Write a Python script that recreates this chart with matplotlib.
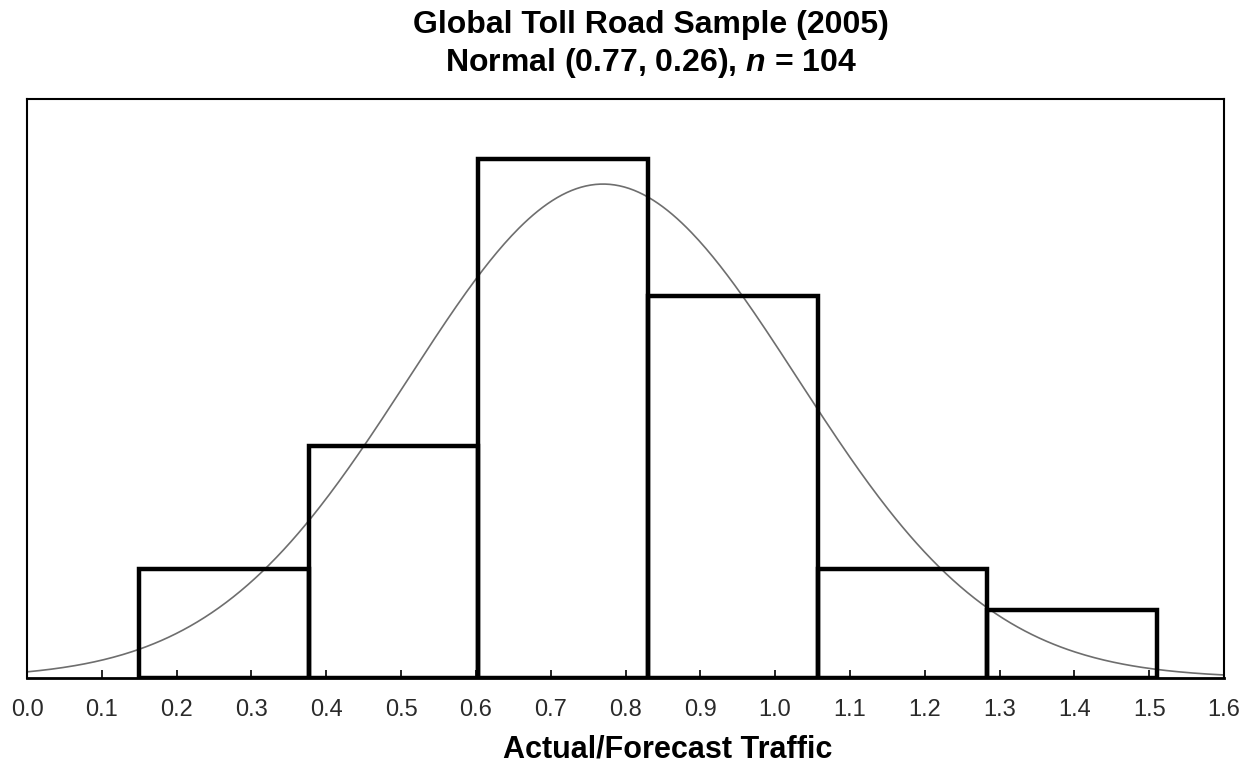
import numpy as np
import matplotlib
matplotlib.use("Agg")
import matplotlib.pyplot as plt

# Data
bin_edges = [0.150, 0.377, 0.603, 0.830, 1.057, 1.283, 1.510]
counts = [8, 17, 38, 28, 8, 5]
mu, sigma, n = 0.77, 0.26, 104
xticks = [round(0.1 * i, 1) for i in range(17)]
title_line1 = "Global Toll Road Sample (2005)"
title_line2 = "Normal (0.77, 0.26), $n$ = 104"
xlabel = "Actual/Forecast Traffic"

plt.rcParams['font.family'] = ['Liberation Sans', 'DejaVu Sans']
plt.rcParams['mathtext.fontset'] = 'custom'
plt.rcParams['mathtext.it'] = 'Liberation Sans:italic:bold'
plt.rcParams['mathtext.rm'] = 'Liberation Sans:bold'

fig = plt.figure(figsize=(12.48, 7.65), dpi=100)
ax = fig.add_axes([27/1248, 87/765, (1224-27)/1248, (678-99)/765])

widths = np.diff(bin_edges)
ax.bar(bin_edges[:-1], counts, width=widths, align='edge', fill=False,
       edgecolor='black', linewidth=3.2, zorder=3)

bw = float(np.mean(widths))
xs = np.linspace(0, 1.6, 500)
pdf = np.exp(-0.5 * ((xs - mu) / sigma) ** 2) / (sigma * np.sqrt(2 * np.pi))
ax.plot(xs, pdf * n * bw, color='#6e6e6e', linewidth=1.2, zorder=2)

ax.set_xlim(0, 1.6)
ax.set_ylim(0, 42.4)
ax.set_xticks(xticks)
ax.set_xticklabels([f"{t:.1f}" for t in xticks])
ax.set_yticks([])
ax.tick_params(axis='x', direction='in', length=6, width=1.2, labelsize=17,
               pad=15, labelcolor='#2a2a2a')
for s in ax.spines.values():
    s.set_linewidth(1.5)
ax.spines['bottom'].set_linewidth(2)

ax.set_xlabel(xlabel, fontsize=22, fontweight='bold')
ax.xaxis.set_label_coords((668 - 27) / 1197, -(750 - 678) / 579)
ax.xaxis.label.set_va('center')
fig.text(651/1248, 1 - 25/765, title_line1, ha='center', va='center',
         fontsize=23, fontweight='bold')
fig.text(651/1248, 1 - 63/765, title_line2, ha='center', va='center',
         fontsize=23, fontweight='bold')

fig.savefig("out.png", dpi=100)
